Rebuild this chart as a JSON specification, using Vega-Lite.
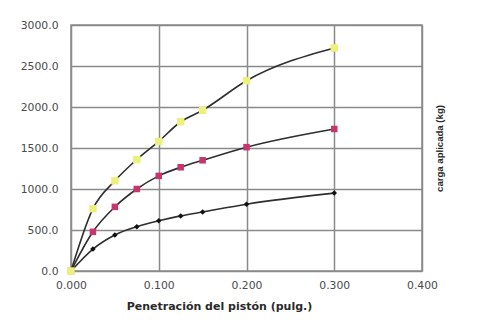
{
  "$schema": "https://vega.github.io/schema/vega-lite/v6.json",
  "width": 351,
  "height": 246,
  "autosize": {"type": "none"},
  "padding": {"left": 71, "top": 25, "right": 65, "bottom": 49},
  "background": "white",
  "config": {
    "font": "DejaVu Sans",
    "view": {"stroke": "#8a8a8a", "strokeWidth": 1.5},
    "axis": {
      "labelFont": "DejaVu Sans",
      "labelFontSize": 10.8,
      "labelColor": "#4a4a4a",
      "titleFont": "DejaVu Sans",
      "titleFontSize": 11,
      "titleFontWeight": "bold",
      "titleColor": "#2a2a2a",
      "gridColor": "#8a8a8a",
      "gridWidth": 1.5,
      "gridOpacity": 1,
      "domain": false,
      "ticks": false
    }
  },
  "data": {
    "values": [
      {"pen": 0.0, "carga": 0, "serie": "1"},
      {"pen": 0.025, "carga": 268, "serie": "1"},
      {"pen": 0.05, "carga": 440, "serie": "1"},
      {"pen": 0.075, "carga": 540, "serie": "1"},
      {"pen": 0.1, "carga": 612, "serie": "1"},
      {"pen": 0.125, "carga": 672, "serie": "1"},
      {"pen": 0.15, "carga": 720, "serie": "1"},
      {"pen": 0.2, "carga": 815, "serie": "1"},
      {"pen": 0.3, "carga": 950, "serie": "1"},
      {"pen": 0.0, "carga": 0, "serie": "2"},
      {"pen": 0.025, "carga": 478, "serie": "2"},
      {"pen": 0.05, "carga": 782, "serie": "2"},
      {"pen": 0.075, "carga": 1000, "serie": "2"},
      {"pen": 0.1, "carga": 1160, "serie": "2"},
      {"pen": 0.125, "carga": 1265, "serie": "2"},
      {"pen": 0.15, "carga": 1350, "serie": "2"},
      {"pen": 0.2, "carga": 1510, "serie": "2"},
      {"pen": 0.3, "carga": 1732, "serie": "2"},
      {"pen": 0.0, "carga": 0, "serie": "3"},
      {"pen": 0.025, "carga": 760, "serie": "3"},
      {"pen": 0.05, "carga": 1100, "serie": "3"},
      {"pen": 0.075, "carga": 1360, "serie": "3"},
      {"pen": 0.1, "carga": 1580, "serie": "3"},
      {"pen": 0.125, "carga": 1820, "serie": "3"},
      {"pen": 0.15, "carga": 1960, "serie": "3"},
      {"pen": 0.2, "carga": 2320, "serie": "3"},
      {"pen": 0.3, "carga": 2720, "serie": "3"}
    ]
  },
  "encoding": {
    "x": {
      "field": "pen",
      "type": "quantitative",
      "scale": {"domain": [0, 0.4], "nice": false, "zero": false},
      "axis": {
        "values": [0, 0.1, 0.2, 0.3, 0.4],
        "format": ".3f",
        "labelFlush": false,
        "labelPadding": 8,
        "title": "Penetración del pistón (pulg.)",
        "titlePadding": 11,
        "titleX": 148
      }
    },
    "y": {
      "field": "carga",
      "type": "quantitative",
      "scale": {"domain": [0, 3000], "nice": false}
    }
  },
  "layer": [
    {
      "mark": {"type": "line", "interpolate": "monotone", "color": "#2e2e2e", "strokeWidth": 1.6},
      "encoding": {
        "detail": {"field": "serie"},
        "y": {
          "field": "carga",
          "type": "quantitative",
          "scale": {"domain": [0, 3000], "nice": false},
          "axis": {
            "values": [0, 500, 1000, 1500, 2000, 2500, 3000],
            "format": ".1f",
            "labelFlush": false,
            "labelPadding": 13,
            "title": null
          }
        }
      }
    },
    {
      "mark": {"type": "point", "filled": true, "opacity": 1},
      "encoding": {
        "y": {
          "field": "carga",
          "type": "quantitative",
          "scale": {"domain": [0, 3000], "nice": false},
          "axis": {
            "orient": "right",
            "labels": false,
            "grid": false,
            "title": "carga aplicada (kg)",
            "titleFont": "Liberation Sans",
            "titleFontSize": 9.6,
            "titleAngle": -90,
            "titlePadding": 22
          }
        },
        "color": {
          "field": "serie",
          "type": "nominal",
          "scale": {"domain": ["1", "2", "3"], "range": ["#111111", "#c8346e", "#eef07c"]},
          "legend": null
        },
        "shape": {
          "field": "serie",
          "type": "nominal",
          "scale": {"domain": ["1", "2", "3"], "range": ["diamond", "square", "square"]},
          "legend": null
        },
        "size": {
          "field": "serie",
          "type": "nominal",
          "scale": {"domain": ["1", "2", "3"], "range": [30, 55, 70]},
          "legend": null
        }
      }
    }
  ],
  "resolve": {"axis": {"y": "independent"}}
}
